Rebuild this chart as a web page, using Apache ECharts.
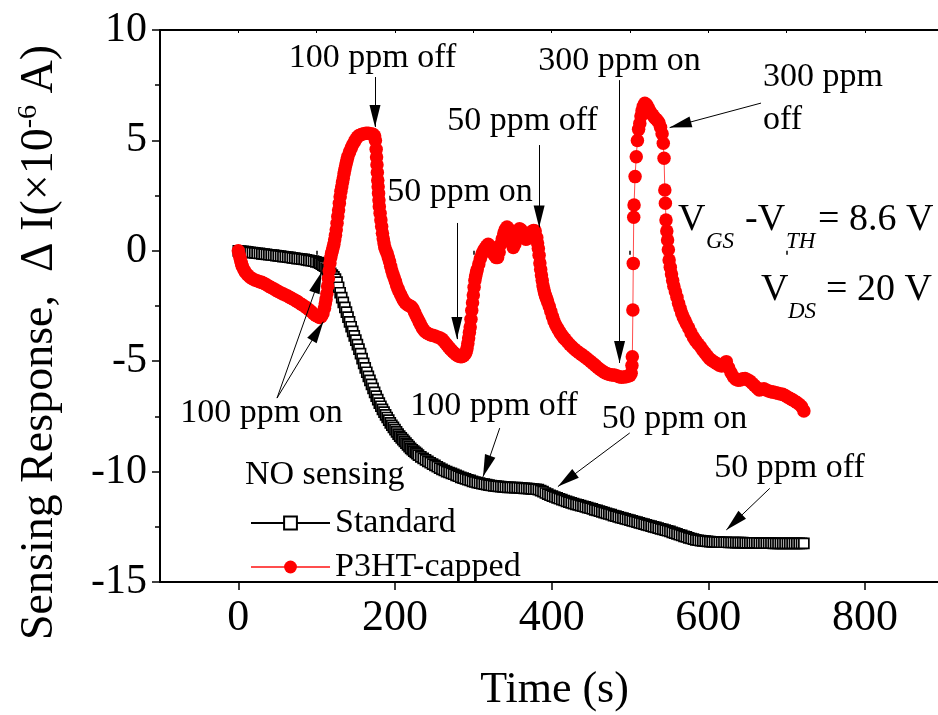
<!DOCTYPE html>
<html>
<head>
<meta charset="utf-8">
<script src="https://cdn.jsdelivr.net/npm/echarts@6/dist/echarts.min.js"></script>
<style>
html, body { margin: 0; padding: 0; background: #fff; }
#chart { width: 938px; height: 715px; }
</style>
</head>
<body>
<div id="chart"></div>
<script>
// Standard device (black open squares): [time (s), response (x1e-6 A)]
const standardPoints = [
  [0,0.00],[3,-0.01],[6,-0.03],[9,-0.04],[12,-0.05],[15,-0.07],[18,-0.08],[21,-0.09],[24,-0.11],[27,-0.12],
  [30,-0.14],[33,-0.15],[36,-0.16],[39,-0.18],[42,-0.19],[45,-0.20],[48,-0.22],[51,-0.23],[54,-0.24],[57,-0.26],
  [60,-0.27],[63,-0.29],[66,-0.30],[69,-0.32],[72,-0.33],[75,-0.35],[78,-0.36],[81,-0.38],[84,-0.39],[87,-0.41],
  [90,-0.43],[93,-0.45],[96,-0.47],[99,-0.50],
  [102,-0.53],[104,-0.56],[106,-0.60],[108,-0.65],[110,-0.70],[112,-0.78],[114,-0.86],[116,-0.94],[118,-1.02],[120,-1.10],
  [122,-1.18],[124,-1.28],[126,-1.42],[128,-1.65],[130,-1.90],[132,-2.12],[134,-2.34],[136,-2.56],[138,-2.78],[140,-3.00],
  [142,-3.22],[144,-3.44],[146,-3.65],[148,-3.85],[150,-4.05],[152,-4.25],[154,-4.45],[156,-4.66],[158,-4.88],[160,-5.10],
  [162,-5.30],[164,-5.50],[166,-5.69],[168,-5.87],[170,-6.05],[172,-6.23],[174,-6.41],[176,-6.58],[178,-6.74],[180,-6.90],
  [182,-7.04],[184,-7.18],[186,-7.31],[188,-7.43],[190,-7.55],[192,-7.67],[194,-7.79],[196,-7.90],[198,-8.00],[200,-8.10],
  [202,-8.20],[204,-8.30],[206,-8.39],[208,-8.47],[210,-8.55],[212,-8.63],[214,-8.71],[216,-8.79],[218,-8.87],[220,-8.95],
  [222,-9.01],[224,-9.07],[226,-9.13],[228,-9.19],[230,-9.25],
  [233,-9.33],[236,-9.40],[239,-9.47],[242,-9.54],[245,-9.60],[248,-9.66],[251,-9.72],[254,-9.78],[257,-9.84],[260,-9.90],
  [263,-9.95],[266,-10.00],[269,-10.04],[272,-10.08],[275,-10.12],[278,-10.17],[281,-10.21],[284,-10.26],[287,-10.30],[290,-10.33],
  [293,-10.37],[296,-10.40],[299,-10.44],[302,-10.47],[305,-10.50],[308,-10.52],[311,-10.55],[314,-10.57],[317,-10.59],[320,-10.61],
  [323,-10.63],[326,-10.65],[329,-10.66],[332,-10.67],[335,-10.68],[338,-10.69],[341,-10.70],[344,-10.71],[347,-10.71],[350,-10.72],
  [353,-10.73],[356,-10.73],[359,-10.74],[362,-10.75],[365,-10.76],[368,-10.76],[371,-10.77],[374,-10.78],[377,-10.79],[380,-10.80],
  [383,-10.82],[386,-10.86],[389,-10.91],[392,-10.97],[395,-11.02],[398,-11.07],[401,-11.11],[404,-11.15],[407,-11.19],[410,-11.23],
  [413,-11.27],[416,-11.31],[419,-11.35],[422,-11.38],[425,-11.42],[428,-11.45],[431,-11.48],[434,-11.51],[437,-11.54],[440,-11.57],
  [443,-11.60],[446,-11.63],[449,-11.66],[452,-11.69],[455,-11.73],[458,-11.76],[461,-11.79],[464,-11.82],[467,-11.86],[470,-11.89],
  [473,-11.92],[476,-11.95],[479,-11.99],[482,-12.02],[485,-12.05],[488,-12.08],[491,-12.11],[494,-12.14],[497,-12.17],[500,-12.20],
  [503,-12.23],[506,-12.26],[509,-12.29],[512,-12.32],[515,-12.35],[518,-12.38],[521,-12.41],[524,-12.44],[527,-12.47],[530,-12.50],
  [533,-12.53],[536,-12.56],[539,-12.59],[542,-12.62],[545,-12.65],[548,-12.68],[551,-12.71],[554,-12.75],[557,-12.79],[560,-12.82],
  [563,-12.86],[566,-12.89],[569,-12.93],[572,-12.96],[575,-13.00],[578,-13.03],[581,-13.06],[584,-13.09],[587,-13.11],[590,-13.13],
  [593,-13.14],[596,-13.15],[599,-13.16],[602,-13.17],[605,-13.18],[608,-13.18],[611,-13.19],[614,-13.19],[617,-13.20],[620,-13.20],
  [623,-13.20],[626,-13.21],[629,-13.21],[632,-13.21],[635,-13.22],[638,-13.22],[641,-13.22],[644,-13.22],[647,-13.23],[650,-13.23],
  [653,-13.23],[656,-13.23],[659,-13.23],[662,-13.23],[665,-13.24],[668,-13.24],[671,-13.24],[674,-13.24],[677,-13.24],[680,-13.24],
  [683,-13.25],[686,-13.25],[689,-13.25],[692,-13.25],[695,-13.25],[698,-13.25],[701,-13.25],[704,-13.25],[707,-13.25],[710,-13.25],
  [713,-13.25],[716,-13.25],[719,-13.25],[722,-13.25]
];

// P3HT-capped device (red dots): [time (s), response (x1e-6 A)]
const p3htPoints = [
  [0,0.00],[1,-0.15],[2,-0.30],[3,-0.45],[4,-0.58],[5,-0.70],[7,-0.85],[9,-0.97],[12,-1.10],[15,-1.20],
  [18,-1.27],[21,-1.32],[24,-1.36],[27,-1.40],[30,-1.43],[33,-1.48],[36,-1.54],[39,-1.60],[42,-1.66],[45,-1.72],
  [48,-1.78],[51,-1.84],[54,-1.90],[57,-1.95],[60,-2.00],[63,-2.05],[66,-2.11],[69,-2.17],[72,-2.23],[75,-2.29],
  [78,-2.36],[81,-2.43],[84,-2.50],[87,-2.58],[90,-2.66],[93,-2.75],[96,-2.85],[99,-2.93],[102,-2.99],[104,-3.02],
  [106,-2.98],[108,-2.85],[110,-2.60],[111,-2.40],[112,-2.20],[113,-1.95],[114,-1.60],[115,-1.25],[116,-0.90],[117,-0.55],
  [118,-0.30],[119,-0.12],[120,0.00],[121,0.15],[122,0.30],[123,0.50],[124,0.70],[125,0.95],[126,1.25],[127,1.55],
  [128,1.85],[129,2.15],[130,2.45],[131,2.70],[132,2.90],[133,3.10],[134,3.30],[135,3.50],[136,3.68],[137,3.85],
  [138,4.00],[139,4.15],[140,4.28],[142,4.48],[144,4.65],[146,4.80],[148,4.93],[150,5.05],[152,5.15],[154,5.22],
  [157,5.27],[160,5.30],[163,5.32],[166,5.32],[169,5.30],[172,5.28],[174,5.20],[175,5.00],[176,4.60],[176.5,4.25],
  [177,3.90],[177.5,3.55],[178,3.20],[178.5,2.90],[179,2.60],[179.5,2.30],[180,2.00],[181,1.70],[182,1.40],[183,1.10],
  [184,0.80],[185,0.55],[186,0.35],[187,0.15],[188.5,0.00],[190,-0.12],[191.5,-0.30],[193,-0.48],[194.5,-0.70],[196,-0.90],
  [197.5,-1.08],[199,-1.22],[200.5,-1.38],[202,-1.55],[203.5,-1.70],[205,-1.82],[207,-1.97],[209,-2.12],[211,-2.25],[213,-2.35],
  [215,-2.42],[217,-2.46],[219,-2.50],[221,-2.53],[223,-2.62],[225,-2.78],[227,-2.94],[229,-3.08],[231,-3.22],[233,-3.36],
  [235,-3.50],[237,-3.60],[239,-3.68],[242,-3.75],[245,-3.80],[248,-3.83],[251,-3.86],[254,-3.90],[257,-3.94],[260,-4.00],
  [262,-4.08],[264,-4.16],[266,-4.25],[268,-4.34],[270,-4.42],[272,-4.50],[274,-4.57],[276,-4.64],[278,-4.70],[280,-4.75],
  [282,-4.78],[284,-4.80],[286,-4.79],[288,-4.74],[290,-4.65],[291,-4.55],[292,-4.40],[293,-4.20],[294,-3.95],[295,-3.70],
  [296,-3.45],[297,-3.10],[298,-2.70],[299,-2.35],[300,-2.00],[301,-1.65],[302,-1.35],[303,-1.15],[304,-0.98],[305,-0.85],
  [307,-0.60],[309,-0.35],[311,-0.15],[313,0.00],[315,0.12],[317,0.22],[319,0.30],[321,0.22],[323,0.08],[325,-0.08],
  [327,-0.20],[329,-0.30],[331,-0.30],[333,-0.05],[335,0.30],[337,0.55],[339,0.80],[341,0.98],[343,1.08],[345,1.00],
  [347,0.75],[349,0.45],[351,0.15],[353,0.30],[355,0.58],[357,0.85],[359,1.00],[361,0.95],[363,0.80],[365,0.65],
  [367,0.52],[369,0.55],[371,0.65],[373,0.78],[375,0.88],[377,0.92],[379,0.90],[381,0.60],[382,0.35],[383,0.10],
  [384,-0.20],[385,-0.55],[386,-0.85],[387,-1.10],[388,-1.35],[389,-1.58],[390,-1.75],[391,-1.90],[392,-2.02],[393,-2.12],
  [394,-2.22],[395,-2.32],[397,-2.52],[399,-2.75],[401,-2.98],[403,-3.18],[405,-3.35],[407,-3.48],[409,-3.60],[411,-3.72],
  [413,-3.82],[415,-3.92],[417,-4.00],[420,-4.12],[423,-4.24],[426,-4.35],[429,-4.45],[432,-4.54],[435,-4.62],[438,-4.69],
  [441,-4.77],[444,-4.85],[447,-4.93],[450,-5.02],[453,-5.11],[456,-5.20],[459,-5.30],[462,-5.38],[465,-5.45],[468,-5.52],
  [471,-5.57],[474,-5.60],[477,-5.62],[480,-5.63],[483,-5.66],[486,-5.70],[489,-5.73],[492,-5.72],[495,-5.70],[498,-5.67],
  [500,-5.65],[501.5,-5.55],[502.5,-5.20],[503,-4.80],[503.7,-2.68],[504.2,-0.57],[504.8,1.52],[505.2,2.07],[506.5,3.36],[508,4.26],
  [509.5,5.00],[511,5.50],[512.5,5.77],[514,6.10],[515.5,6.35],[517,6.55],[519,6.68],[521,6.62],[523,6.50],[525,6.35],
  [527,6.23],[529,6.15],[531,6.05],[533,5.97],[535,5.90],[537,5.80],[539,5.60],[541,5.30],[542.5,4.87],[543.5,4.19],
  [544.5,2.75],[545.2,2.15],[546,1.39],[547,0.90],[548,0.49],[549,0.05],[550,-0.42],[551.5,-0.75],[553,-1.05],[554.5,-1.35],
  [556,-1.60],[558,-1.85],[560,-2.10],[562,-2.38],[564,-2.60],[566,-2.82],[568,-3.00],[570,-3.15],[572,-3.30],[575,-3.50],
  [578,-3.72],[581,-3.92],[584,-4.08],[587,-4.22],[590,-4.35],[593,-4.50],[596,-4.64],[599,-4.78],[602,-4.90],[605,-4.98],
  [608,-5.05],[611,-5.12],[614,-5.18],[617,-5.22],[620,-5.10],[623,-5.02],[626,-5.30],[629,-5.52],[632,-5.70],[635,-5.82],
  [638,-5.86],[641,-5.85],[644,-5.80],[647,-5.78],[650,-5.84],[653,-5.90],[656,-6.00],[659,-6.10],[662,-6.20],[665,-6.30],
  [668,-6.28],[671,-6.25],[674,-6.30],[677,-6.35],[680,-6.38],[683,-6.40],[686,-6.43],[689,-6.45],[692,-6.48],[695,-6.50],
  [698,-6.55],[701,-6.62],[704,-6.68],[707,-6.74],[710,-6.80],[713,-6.87],[716,-6.95],[719,-7.05],[722,-7.25]
];

const xMajorTicks = [0, 200, 400, 600, 800];
const xMinorTicks = [-100, 100, 300, 500, 700, 900];
const xAllTicks = [-100, 0, 100, 200, 300, 400, 500, 600, 700, 800, 900];

// Gas on/off arrows, [tail, head] in data coordinates
const arrowSegments = [
  [[174.5, 7.87], [174.5, 5.61]],
  [[279, 1.26], [279, -4.0]],
  [[384, 4.79], [384, 1.06]],
  [[486.7, 7.73], [486.7, -5.08]],
  [[667.3, 6.69], [550.7, 5.58]],
  [[49.4, -6.67], [106.5, -0.95]],
  [[49.4, -6.67], [108.5, -3.21]],
  [[333.7, -8.03], [312.4, -10.23]],
  [[499.7, -8.25], [408, -10.68]],
  [[678.4, -10.76], [623, -12.64]]
];

const FAMILY = '"Liberation Serif", "Times New Roman", serif';

// text anchored on its baseline
function label(str, x, base, size, align, italic) {
  return {
    type: 'text', x: x, y: base - 0.34 * size, silent: true, z: 100,
    style: {
      text: str,
      font: (italic ? 'italic ' : '') + size + 'px ' + FAMILY,
      fill: '#000',
      textAlign: align || 'center',
      textVerticalAlign: 'middle',
      verticalAlign: 'middle'
    }
  };
}

const chart = echarts.init(document.getElementById('chart'), null, { renderer: 'canvas' });

const axisLineStyle = { color: '#000', width: 2 };
const tickStyle = { color: '#000', width: 1.5 };

chart.setOption({
  backgroundColor: '#fff',
  animation: false,
  grid: { left: 160, top: 30, right: -5.3, bottom: 133, containLabel: false, outerBoundsMode: 'none' },
  xAxis: [
    {
      type: 'value', min: -100, max: 900, position: 'bottom',
      axisLine: { show: true, onZero: false, lineStyle: axisLineStyle },
      axisTick: { show: true, length: 8, customValues: xMajorTicks, lineStyle: tickStyle },
      axisLabel: { show: true, customValues: xMajorTicks, margin: 14, fontFamily: FAMILY, fontSize: 44, color: '#000' },
      splitLine: { show: false }
    },
    {
      type: 'value', min: -100, max: 900, position: 'bottom',
      axisLine: { show: false },
      axisTick: { show: true, length: 4, customValues: xMinorTicks, lineStyle: tickStyle },
      axisLabel: { show: false },
      splitLine: { show: false }
    },
    {
      type: 'value', min: -100, max: 900, position: 'top',
      axisLine: { show: true, onZero: false, lineStyle: axisLineStyle },
      axisTick: { show: true, inside: true, length: 3, customValues: xAllTicks, lineStyle: { color: '#000', width: 1 } },
      axisLabel: { show: false },
      splitLine: { show: false }
    }
  ],
  yAxis: [
    {
      type: 'value', min: -15, max: 10, interval: 5, position: 'left',
      axisLine: { show: true, onZero: false, lineStyle: axisLineStyle },
      axisTick: { show: true, length: 8, lineStyle: tickStyle },
      minorTick: { show: true, splitNumber: 2, length: 5, lineStyle: tickStyle },
      axisLabel: { margin: 13, fontFamily: FAMILY, fontSize: 42, color: '#000' },
      splitLine: { show: false },
      minorSplitLine: { show: false }
    }
  ],
  legend: {
    orient: 'vertical', left: 245, top: 501,
    itemWidth: 79, itemHeight: 16, itemGap: 10,
    selectedMode: false,
    textStyle: { fontFamily: FAMILY, fontSize: 34, color: '#000', lineHeight: 34 },
    data: ['Standard', 'P3HT-capped']
  },
  series: [
    {
      name: 'Standard', type: 'line', xAxisIndex: 0, yAxisIndex: 0,
      data: standardPoints,
      symbol: 'rect', symbolSize: 10, showSymbol: true, showAllSymbol: true,
      itemStyle: { color: '#fff', borderColor: '#000', borderWidth: 1.7 },
      lineStyle: { color: '#000', width: 1 },
      emphasis: { disabled: true },
      z: 2
    },
    {
      name: 'P3HT-capped', type: 'line', xAxisIndex: 0, yAxisIndex: 0,
      data: p3htPoints,
      symbol: 'circle', symbolSize: 13.5, showSymbol: true, showAllSymbol: true,
      itemStyle: { color: '#ff0000', borderWidth: 0 },
      lineStyle: { color: '#ff4d4d', width: 1 },
      emphasis: { disabled: true },
      z: 3,
      markLine: {
        silent: true,
        symbol: ['none', 'triangle'],
        lineStyle: { color: '#000', width: 1, type: 'solid' },
        itemStyle: { color: '#000' },
        label: { show: false },
        emphasis: { disabled: true },
        animation: false,
        data: arrowSegments.map(s => [
          { coord: s[0], symbol: 'none' },
          { coord: s[1], symbol: 'triangle', symbolSize: [11, 22], symbolOffset: [0, 11] }
        ])
      }
    }
  ],
  graphic: [
    {
      type: 'text', x: 39.5, y: 342.5, rotation: Math.PI / 2, silent: true,
      style: {
        text: '{a|Sensing Response,  \u0394 I(\u00d710}{s|-6}{a| A)}',
        textAlign: 'center', textVerticalAlign: 'middle', verticalAlign: 'middle',
        fill: '#000',
        rich: {
          a: { fontFamily: FAMILY, fontSize: 46, lineHeight: 50, fill: '#000' },
          s: { fontFamily: FAMILY, fontSize: 28, lineHeight: 24, verticalAlign: 'top', fill: '#000' }
        }
      }
    },
    label('Time (s)', 554.5, 705, 44),
    label('100 ppm off', 372.5, 70, 34),
    label('50 ppm on', 460, 204, 34),
    label('50 ppm off', 522.5, 133, 34),
    label('300 ppm on', 619.5, 73, 34),
    label('300 ppm', 763, 89, 34, 'left'),
    label('off', 763, 132, 34, 'left'),
    label('100 ppm on', 261.5, 425, 34),
    label('100 ppm off', 494, 418, 34),
    label('50 ppm on', 674.5, 431, 34),
    label('50 ppm off', 789.5, 480, 34),
    label('NO sensing', 245, 487, 34, 'left'),
    label('V', 678, 233, 38, 'left'),
    label('GS', 706, 250, 23, 'left', true),
    label('-V', 745, 233, 38, 'left'),
    label('TH', 786, 250, 23, 'left', true),
    label('= 8.6 V', 818, 233, 38, 'left'),
    label('V', 761, 303, 38, 'left'),
    label('DS', 788, 320, 23, 'left', true),
    label('= 20 V', 826, 303, 38, 'left')
  ]
});
</script>
</body>
</html>
